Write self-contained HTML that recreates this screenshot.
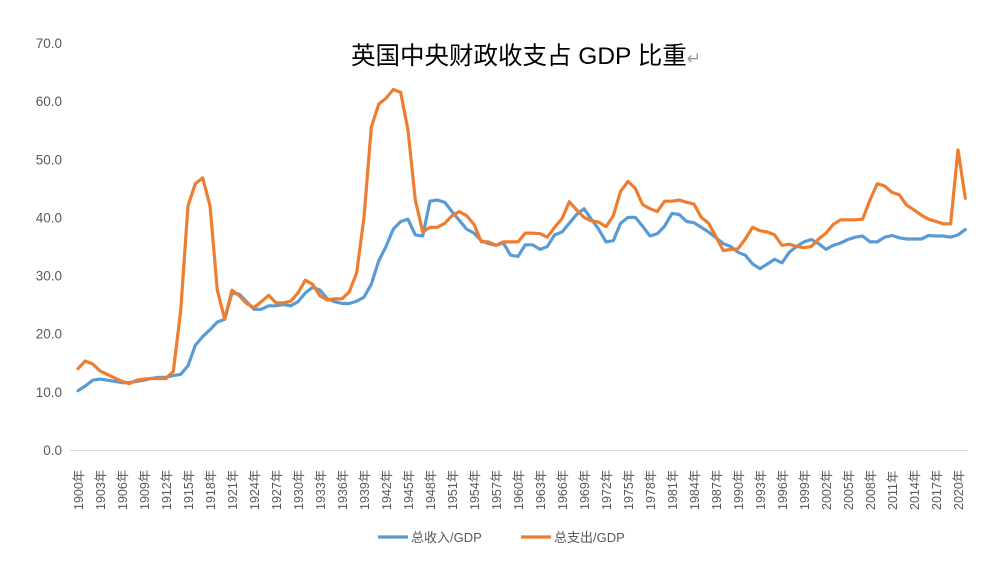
<!DOCTYPE html>
<html><head><meta charset="utf-8"><style>
html,body{margin:0;padding:0;background:#fff;}
svg{display:block;font-family:"Liberation Sans","Noto Sans CJK SC",sans-serif;}
</style></head><body>
<svg id="c" width="999" height="562" xmlns="http://www.w3.org/2000/svg"></svg>
<script>
const rev=[10.2,11,12,12.2,12,11.8,11.6,11.6,11.8,12,12.3,12.5,12.5,12.8,13,14.5,18,19.5,20.7,22,22.5,27,26.8,25.5,24.2,24.2,24.8,24.8,25,24.8,25.5,27,28,27.5,26,25.5,25.2,25.2,25.6,26.3,28.5,32.5,35,38,39.3,39.7,37,36.8,42.8,43,42.6,41,39.5,38,37.3,36,35.5,35.2,35.6,33.5,33.3,35.3,35.3,34.5,35,37,37.5,39,40.5,41.5,39.7,38,35.8,36,39,40,40,38.5,36.8,37.2,38.5,40.7,40.5,39.3,39.1,38.3,37.5,36.5,35.5,35,34,33.5,32,31.2,32,32.8,32.2,34,35,35.8,36.2,35.5,34.5,35.2,35.6,36.2,36.6,36.8,35.8,35.8,36.6,36.9,36.5,36.3,36.3,36.3,36.9,36.8,36.8,36.6,37,37.9];
const exp=[14,15.3,14.8,13.6,13,12.4,11.8,11.4,12,12.2,12.3,12.3,12.3,13.5,24,42,45.8,46.8,42,27.5,22.5,27.5,26.5,25.2,24.5,25.5,26.6,25.3,25.3,25.6,27,29.2,28.5,26.5,25.8,26,26,27.2,30.5,40,55.5,59.5,60.5,62,61.5,55,43,37.5,38.3,38.3,39,40.3,41,40.3,38.8,35.8,35.8,35.2,35.8,35.8,35.8,37.3,37.3,37.2,36.6,38.3,39.8,42.7,41.3,40,39.4,39.2,38.4,40.3,44.5,46.2,45,42.2,41.5,41,42.8,42.8,43,42.6,42.3,40,39,36.7,34.3,34.5,34.6,36.3,38.3,37.7,37.5,37,35.2,35.4,35,34.8,35,36.3,37.3,38.8,39.6,39.6,39.6,39.7,43,45.8,45.4,44.3,43.9,42.1,41.3,40.4,39.7,39.3,38.9,38.9,51.6,43.3];
const X=i=>78+i*7.333, Y=v=>450-v*5.814;
let s='';
s+='<text x="526" y="64" text-anchor="middle" font-size="24.5" fill="#000">英国中央财政收支占 GDP 比重<tspan fill="#999" font-size="17">↵</tspan></text>';
for(let k=0;k<=7;k++){s+=`<text x="62" y="${Y(k*10)+5}" text-anchor="end" font-size="13.5" fill="#595959">${(k*10).toFixed(1)}</text>`;}
s+='<line x1="70" y1="450.5" x2="968" y2="450.5" stroke="#d9d9d9" stroke-width="1"/>';
for(let i=0;i<=120;i+=3){const x=X(i)+5;s+=`<text transform="translate(${x},510) rotate(-90)" font-size="12.5" fill="#595959">${1900+i}年</text>`;}
const pl=(d,c)=>'<polyline fill="none" stroke="'+c+'" stroke-width="3.2" stroke-linejoin="round" stroke-linecap="round" points="'+d.map((v,i)=>X(i).toFixed(1)+','+Y(v).toFixed(1)).join(' ')+'"/>';
s+=pl(rev,'#5b9bd5');s+=pl(exp,'#ed7d31');
s+='<line x1="378" y1="537" x2="408" y2="537" stroke="#5b9bd5" stroke-width="3.2"/><text x="411" y="542" font-size="13" fill="#595959">总收入/GDP</text>';
s+='<line x1="521" y1="537" x2="551" y2="537" stroke="#ed7d31" stroke-width="3.2"/><text x="554" y="542" font-size="13" fill="#595959">总支出/GDP</text>';
document.getElementById('c').innerHTML=s;
</script>
</body></html>
